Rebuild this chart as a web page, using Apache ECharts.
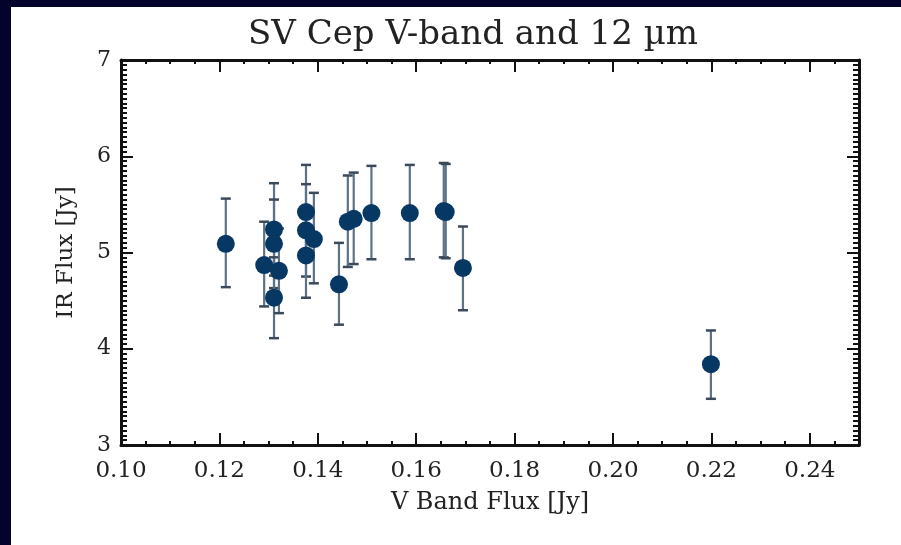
<!DOCTYPE html>
<html>
<head>
<meta charset="utf-8">
<script src="https://cdn.jsdelivr.net/npm/echarts@6/dist/echarts.min.js"></script>
<style>
html,body{margin:0;padding:0;background:#03032b;}
#c{width:901px;height:545px;}
</style>
</head>
<body>
<div id="c"></div>
<script>
// Data
var vFlux   = [0.1213, 0.1291, 0.1311, 0.1311, 0.1311, 0.1321, 0.1376, 0.1376, 0.1376, 0.1392, 0.1443, 0.1461, 0.1473, 0.1509, 0.1587, 0.1656, 0.1660, 0.1695, 0.2199];
var irFlux  = [5.09, 4.87, 5.24, 5.09, 4.53, 4.81, 5.42, 5.23, 4.97, 5.14, 4.67, 5.32, 5.35, 5.41, 5.41, 5.43, 5.42, 4.84, 3.84];
var irLow   = [4.64, 4.44, 4.76, 4.63, 4.11, 4.37, 4.94, 4.75, 4.53, 4.68, 4.25, 4.85, 4.88, 4.93, 4.93, 4.95, 4.94, 4.40, 3.48];
var irHigh  = [5.56, 5.32, 5.72, 5.55, 4.95, 5.25, 5.91, 5.71, 5.41, 5.62, 5.10, 5.80, 5.83, 5.90, 5.91, 5.93, 5.92, 5.27, 4.19];
var xTicks  = [0.10, 0.12, 0.14, 0.16, 0.18, 0.20, 0.22, 0.24];
var yTicks  = [3, 4, 5, 6, 7];

var pts = vFlux.map(function(v,i){return [v, irFlux[i]];});
var errs = vFlux.map(function(v,i){return [v, irLow[i], irHigh[i]];});

var FONT = 'DejaVu Serif';
var chart = echarts.init(document.getElementById('c'));

function axisBase(show, minorLen){
  return {
    axisLine:{show:true, onZero:false, lineStyle:{color:'#111', width:3}},
    axisTick:{show:true, inside:true, length:12, lineStyle:{color:'#111', width:2}},
    minorTick:{show:true, length:minorLen, lineStyle:{color:'#111', width:2}},
    splitLine:{show:false},
    axisLabel:{show:show}
  };
}

var xb = Object.assign(axisBase(true, 4), {
  type:'value', min:0.10, max:0.25, interval:0.02, position:'bottom',
  name:'V Band Flux [Jy]', nameLocation:'middle', nameGap:46,
  nameTextStyle:{color:'#222', fontFamily:FONT, fontSize:24},
  axisLabel:{show:true, color:'#222', fontFamily:FONT, fontSize:23, margin:15,
    formatter:function(v){return xTicks.indexOf(Math.round(v*100)/100) >= 0 ? v.toFixed(2) : '';}}
});
xb.minorTick.splitNumber = 4;
var xt = Object.assign(axisBase(false, 4), {type:'value', min:0.10, max:0.25, interval:0.02, position:'top'});
xt.minorTick.splitNumber = 4;

var yl = Object.assign(axisBase(true, 6), {
  type:'value', min:3, max:7, interval:1, position:'left',
  name:'IR Flux [Jy]', nameLocation:'middle', nameGap:43,
  nameTextStyle:{color:'#222', fontFamily:FONT, fontSize:23},
  axisLabel:{show:true, color:'#222', fontFamily:FONT, fontSize:22, margin:10,
    formatter:function(v){return yTicks.indexOf(v) >= 0 ? String(v) : '';}}
});
yl.minorTick.splitNumber = 20;
var yr = Object.assign(axisBase(false, 6), {type:'value', min:3, max:7, interval:1, position:'right'});
yr.minorTick.splitNumber = 20;

chart.setOption({
  backgroundColor:'#03032b',
  animation:false,
  graphic:[{type:'rect', z:-10, shape:{x:11, y:7, width:890, height:538}, style:{fill:'#ffffff'}, silent:true}],
  title:{text:'SV Cep V-band and 12 µm', left:468, top:13, textAlign:'center',
    textStyle:{color:'#222', fontFamily:FONT, fontSize:34, fontWeight:'normal'}},
  grid:{left:121, right:42, top:60, bottom:100, containLabel:false},
  xAxis:[xb, xt],
  yAxis:[yl, yr],
  series:[
    {type:'custom', xAxisIndex:0, yAxisIndex:0, data:errs, z:2,
     renderItem:function(params, api){
       var x = api.value(0), lo = api.value(1), hi = api.value(2);
       var pLo = api.coord([x, lo]), pHi = api.coord([x, hi]);
       var cw = 5;
       return {type:'group', children:[
         {type:'line', shape:{x1:pLo[0], y1:pLo[1], x2:pHi[0], y2:pHi[1]}, style:{stroke:'#5d7287', lineWidth:2.2}},
         {type:'line', shape:{x1:pLo[0]-cw, y1:pLo[1], x2:pLo[0]+cw, y2:pLo[1]}, style:{stroke:'#3a4a5a', lineWidth:2.5}},
         {type:'line', shape:{x1:pHi[0]-cw, y1:pHi[1], x2:pHi[0]+cw, y2:pHi[1]}, style:{stroke:'#3a4a5a', lineWidth:2.5}}
       ]};
     }},
    {type:'scatter', xAxisIndex:0, yAxisIndex:0, data:pts, symbol:'circle', symbolSize:18, z:3,
     itemStyle:{color:'#073863', opacity:1}}
  ]
});
</script>
</body>
</html>
